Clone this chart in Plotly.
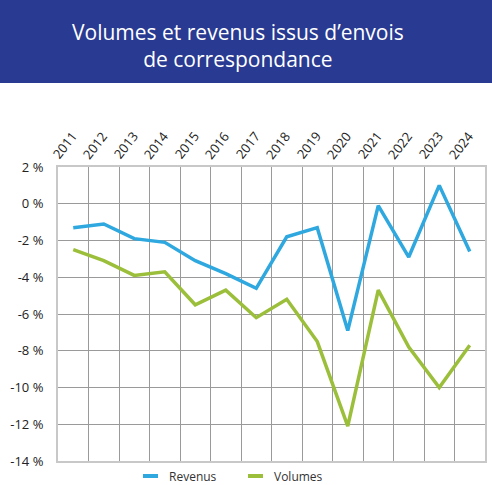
import plotly.graph_objects as go

years = ["2011", "2012", "2013", "2014", "2015", "2016", "2017",
         "2018", "2019", "2020", "2021", "2022", "2023", "2024"]
revenus = [-1.3, -1.1, -1.9, -2.1, -3.1, -3.8, -4.6, -1.8, -1.3, -6.9, -0.1, -2.9, 1.0, -2.6]
volumes = [-2.5, -3.1, -3.9, -3.7, -5.5, -4.7, -6.2, -5.2, -7.5, -12.1, -4.7, -7.8, -10.0, -7.7]
y_ticks = [2, 0, -2, -4, -6, -8, -10, -12, -14]
y_labels = ["2 %", "0 %", "-2 %", "-4 %", "-6 %", "-8 %", "-10 %", "-12 %", "-14 %"]
series_names = ["Revenus", "Volumes"]
series_colors = ["#2ea8df", "#9bbf3a"]

idx = list(range(len(years)))
n = len(years)
W, H = 492, 485
ml, mr, mt, mb = 58, 7, 167, 24
pw, ph = W - ml - mr, H - mt - mb
label_shift = 0.86  # rotated top labels start left of the category centre


def px_x(p):
    return (p - ml) / pw


def px_y(p):
    return (H - mb - p) / ph


fig = go.Figure()
for name, vals, col in zip(series_names, [revenus, volumes], series_colors):
    fig.add_trace(go.Scatter(x=idx, y=vals, mode="lines", name=name, showlegend=False,
                             line=dict(color=col, width=3.5)))

grid = "#9a9a9a"
fig.update_layout(
    width=W, height=H,
    margin=dict(l=ml, r=mr, t=mt, b=mb, autoexpand=False),
    paper_bgcolor="white", plot_bgcolor="white",
    font=dict(family="Open Sans, Liberation Sans, sans-serif", color="#222"),
    showlegend=False,
    xaxis=dict(range=[-0.5, n - 0.5], tickvals=[i - 0.5 for i in range(n + 1)],
               showticklabels=False, showgrid=True, gridcolor=grid, gridwidth=1, automargin=False,
               zeroline=False, showline=True, linecolor="#c8c8c8", linewidth=2, mirror=True),
    yaxis=dict(range=[-14, 2], tickvals=y_ticks, ticktext=y_labels, showgrid=True,
               gridcolor=grid, gridwidth=1, zeroline=False, showline=True, automargin=False,
               linecolor="#c8c8c8", linewidth=2, mirror=True,
               tickfont=dict(size=13, color="#222"), ticklabelstandoff=10),
)

# rotated category labels above the plot (positioned from the category index)
for i, yr in zip(idx, years):
    fig.add_annotation(xref="paper", yref="paper", x=(i + 0.5 - label_shift) / n, y=px_y(164),
                       text=yr, showarrow=False, textangle=-52, xanchor="left",
                       yanchor="bottom", borderpad=0,
                       font=dict(size=13, color="#222"))

# title banner
fig.add_shape(type="rect", xref="paper", yref="paper", layer="above",
              x0=px_x(-2), x1=px_x(W + 2), y0=px_y(83), y1=px_y(-2),
              fillcolor="#283a91", line=dict(width=0))
fig.add_annotation(xref="paper", yref="paper", x=px_x(238), y=px_y(45),
                   text="Volumes et revenus issus d\u2019envois<br>de correspondance",
                   showarrow=False, xanchor="center", yanchor="middle",
                   font=dict(family="Open Sans, sans-serif", size=21, color="white"))

# legend
leg_x = [143, 248]
for name, col, lx in zip(series_names, series_colors, leg_x):
    fig.add_shape(type="line", xref="paper", yref="paper",
                  x0=px_x(lx), x1=px_x(lx + 15), y0=px_y(476), y1=px_y(476),
                  line=dict(color=col, width=4))
    fig.add_annotation(xref="paper", yref="paper", x=px_x(lx + 24), y=px_y(476),
                       text=name, showarrow=False, xanchor="left", yanchor="middle",
                       font=dict(size=12, color="#333"))

fig.write_html("out.html", config={"displayModeBar": False},
               post_script="document.body.style.margin='0';document.body.style.padding='0';")
